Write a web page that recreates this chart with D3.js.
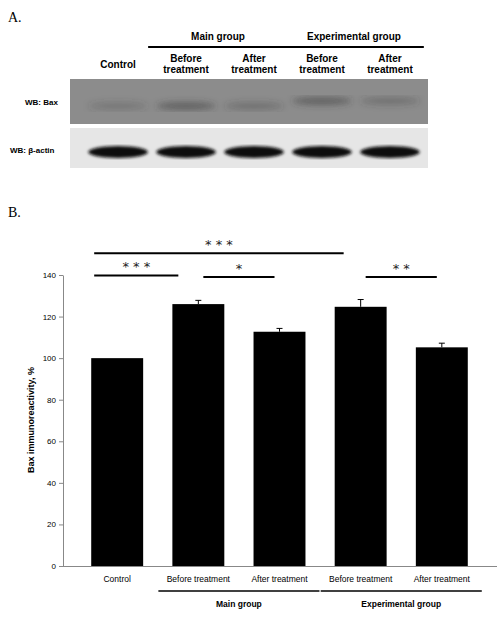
<!DOCTYPE html>
<html><head><meta charset="utf-8">
<script src="https://cdn.jsdelivr.net/npm/d3@7"></script>
<style>body{margin:0;background:#fff}</style>
</head><body>
<svg id="c" width="500" height="618"></svg>
<script>
const categories = ["Control", "Before treatment", "After treatment", "Before treatment", "After treatment"];
const values = [100, 126, 112.7, 124.7, 105.2];
const errors = [0, 1.8, 1.6, 3.5, 2];
const yTicks = [0, 20, 40, 60, 80, 100, 120, 140];
const groups = [{name: "Main group", from: 1, to: 2}, {name: "Experimental group", from: 3, to: 4}];
const sigBars = [
  {from: 0, to: 3, level: 150.5, label: "* * *"},
  {from: 0, to: 1, level: 139.8, label: "* * *"},
  {from: 1, to: 2, level: 139, label: "*"},
  {from: 3, to: 4, level: 139, label: "* *"}
];
const laneLabels = [["Control"], ["Before", "treatment"], ["After", "treatment"], ["Before", "treatment"], ["After", "treatment"]];
const baxIntensity = [0.25, 0.5, 0.3, 0.5, 0.3];
const actinIntensity = [1, 1, 1, 1, 1];

const svg = d3.select("#c");
const defs = svg.append("defs");
defs.append("filter").attr("id", "blur").append("feGaussianBlur").attr("stdDeviation", 3);
defs.append("filter").attr("id", "blur2").append("feGaussianBlur").attr("stdDeviation", 1.5);

// ---- Panel A: blot ----
svg.append("text").attr("x", 8).attr("y", 22).attr("font-family", "Liberation Serif").attr("font-size", 14).text("A.");
const lane = d3.scaleBand().domain(d3.range(5)).range([80, 428]).padding(0.12);
const bold = g => g.attr("font-family", "Liberation Sans, Arial").attr("font-weight", "bold").attr("font-size", 10);

groups.forEach(gp => {
  const x0 = lane(gp.from) - 8, x1 = lane(gp.to) + lane.bandwidth() + 4;
  svg.append("line").attr("x1", x0).attr("x2", x1).attr("y1", 47).attr("y2", 47).attr("stroke", "#000").attr("stroke-width", 2);
  svg.append("text").attr("x", (x0 + x1) / 2).attr("y", 40).attr("text-anchor", "middle").call(bold).text(gp.name);
});
laneLabels.forEach((ls, i) => {
  const t = svg.append("text").attr("text-anchor", "middle").call(bold)
    .attr("x", lane(i) + lane.bandwidth() / 2).attr("y", ls.length === 1 ? 68 : 62);
  ls.forEach((l, j) => t.append("tspan").attr("x", lane(i) + lane.bandwidth() / 2).attr("dy", j ? 11 : 0).text(l));
});

svg.append("rect").attr("x", 70).attr("y", 79).attr("width", 358).attr("height", 45).attr("fill", "#8c8c8c");
svg.append("rect").attr("x", 70).attr("y", 128).attr("width", 358).attr("height", 40).attr("fill", "#e6e6e6");
svg.append("text").attr("x", 25).attr("y", 105).call(bold).attr("font-size", 8).text("WB: Bax");
svg.append("text").attr("x", 10).attr("y", 153).call(bold).attr("font-size", 8).text("WB: β-actin");

svg.append("g").attr("filter", "url(#blur)").selectAll("ellipse").data(baxIntensity).join("ellipse")
  .attr("cx", (d, i) => lane(i) + lane.bandwidth() / 2).attr("cy", (d, i) => i > 2 ? 101 : 106)
  .attr("rx", lane.bandwidth() / 2).attr("ry", 4)
  .attr("fill", "#3a3a3a").attr("opacity", d => d);
svg.append("g").attr("filter", "url(#blur2)").selectAll("ellipse").data(actinIntensity).join("ellipse")
  .attr("cx", (d, i) => lane(i) + lane.bandwidth() / 2).attr("cy", 152)
  .attr("rx", lane.bandwidth() / 2).attr("ry", 6)
  .attr("fill", "#111").attr("opacity", d => d);

// ---- Panel B: bar chart ----
svg.append("text").attr("x", 8).attr("y", 217).attr("font-family", "Liberation Serif").attr("font-size", 14).text("B.");
const x = d3.scaleBand().domain(d3.range(5)).range([62, 497]).padding(0.36);
const y = d3.scaleLinear().domain([0, 140]).range([566, 275]);
const cx = i => x(i) + x.bandwidth() / 2;

const ya = svg.append("g").attr("transform", "translate(63,0)")
  .call(d3.axisLeft(y).tickValues(yTicks).tickSize(4).tickSizeOuter(0));
ya.select(".domain").attr("stroke", "#888");
ya.selectAll(".tick line").attr("stroke", "#888");
ya.selectAll("text").attr("font-family", "Liberation Sans, Arial").attr("font-size", 8).attr("fill", "#000");
svg.append("line").attr("x1", 63).attr("x2", 497).attr("y1", 566.5).attr("y2", 566.5).attr("stroke", "#888");

svg.append("text").attr("transform", "translate(34,420) rotate(-90)").attr("text-anchor", "middle")
  .call(bold).attr("font-size", 9).text("Bax immunoreactivity, %");

svg.selectAll(".err").data(values).join("g").each(function(d, i) {
  if (!errors[i]) return;
  const g = d3.select(this);
  g.append("line").attr("x1", cx(i)).attr("x2", cx(i)).attr("y1", y(d)).attr("y2", y(d + errors[i])).attr("stroke", "#000");
  g.append("line").attr("x1", cx(i) - 3).attr("x2", cx(i) + 3).attr("y1", y(d + errors[i])).attr("y2", y(d + errors[i])).attr("stroke", "#000");
});
svg.selectAll(".bar").data(values).join("rect")
  .attr("x", (d, i) => x(i)).attr("width", x.bandwidth())
  .attr("y", d => y(d)).attr("height", d => y(0) - y(d)).attr("fill", "#000");

categories.forEach((c, i) => svg.append("text").attr("x", cx(i)).attr("y", 582).attr("text-anchor", "middle")
  .attr("font-family", "Liberation Sans, Arial").attr("font-size", 8.5).text(c));
groups.forEach(gp => {
  const x0 = x(gp.from) - 14, x1 = x(gp.to) + x.bandwidth() + 14;
  svg.append("line").attr("x1", x0).attr("x2", x1).attr("y1", 591).attr("y2", 591).attr("stroke", "#000").attr("stroke-width", 1.5);
  svg.append("text").attr("x", (x0 + x1) / 2).attr("y", 607).attr("text-anchor", "middle").call(bold).attr("font-size", 8.5).text(gp.name);
});

sigBars.forEach(s => {
  const xs = s.from === 0 ? cx(0) - 23 : cx(s.from) + 5;
  const xe = s.to === 3 ? cx(3) - 17 : s.to === 1 ? cx(1) - 20 : cx(s.to) - 5;
  svg.append("line").attr("x1", xs).attr("x2", xe).attr("y1", y(s.level)).attr("y2", y(s.level)).attr("stroke", "#000").attr("stroke-width", 2);
  svg.append("text").attr("x", (xs + xe) / 2).attr("y", y(s.level) - 4).attr("text-anchor", "middle")
    .attr("font-family", "DejaVu Sans").attr("font-size", 13).attr("fill", "#222").text(s.label);
});
</script>
</body></html>
